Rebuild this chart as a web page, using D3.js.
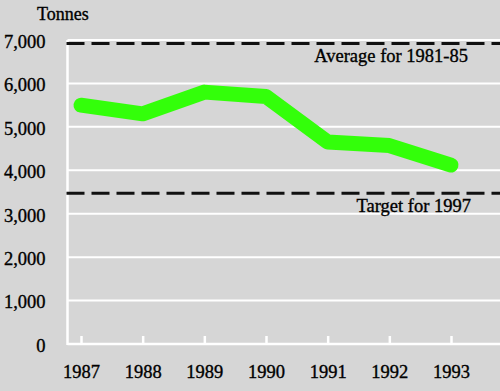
<!DOCTYPE html>
<html>
<head>
<meta charset="utf-8">
<script src="https://cdn.jsdelivr.net/npm/d3@7"></script>
<style>
html,body{margin:0;padding:0;background:#d6d6d6;}
svg{display:block;}
text{font-family:"Liberation Serif","DejaVu Serif",serif;fill:#000;stroke:#000;stroke-width:0.35px;}
</style>
</head>
<body>
<svg id="chart" width="500" height="391"></svg>
<script>
const years = [1987, 1988, 1989, 1990, 1991, 1992, 1993];
const tonnes = [5500, 5300, 5800, 5700, 4650, 4570, 4120];
const yTicks = [0, 1000, 2000, 3000, 4000, 5000, 6000, 7000];
const refValues = [6920, 3470];
const refLabels = ["Average for 1981-85", "Target for 1997"];

const W = 500, H = 391;
const svg = d3.select("#chart");
svg.append("rect").attr("width", W).attr("height", H).attr("fill", "#d6d6d6");

const x = d3.scaleLinear().domain([1987, 1993]).range([81, 451]);
const y = d3.scaleLinear().domain([0, 7000]).range([344, 40]);
const left = 67.5, right = 500;

// gridlines
svg.append("g").selectAll("line").data(yTicks.filter(d => d > 0)).join("line")
  .attr("x1", left).attr("x2", right)
  .attr("y1", d => y(d)).attr("y2", d => y(d))
  .attr("stroke", "#fff").attr("stroke-width", 2);

// y axis
const yAxis = d3.axisLeft(y).tickValues(yTicks).tickSize(0).tickPadding(22)
  .tickFormat(d3.format(","));
const gy = svg.append("g").attr("transform", `translate(${left},0)`).call(yAxis);
gy.select(".domain").remove();
gy.selectAll("text").attr("font-size", 18.5).attr("dy", "0.4em");

// axis lines
svg.append("line").attr("x1", left).attr("x2", left).attr("y1", y(7000)).attr("y2", y(0) + 1)
  .attr("stroke", "#fff").attr("stroke-width", 2.5);
svg.append("line").attr("x1", left).attr("x2", right).attr("y1", y(0)).attr("y2", y(0))
  .attr("stroke", "#fff").attr("stroke-width", 2.5);

// x axis ticks (upward)
const xAxis = d3.axisBottom(x).tickValues(years).tickFormat(d3.format("d"))
  .tickSizeInner(-8).tickSizeOuter(0).tickPadding(20);
const gx = svg.append("g").attr("transform", `translate(0,${y(0)})`).call(xAxis);
gx.select(".domain").remove();
gx.selectAll(".tick line").attr("stroke", "#fff").attr("stroke-width", 2.5);
gx.selectAll("text").attr("font-size", 18.5).attr("dy", "0.75em");

// reference dashed lines
svg.append("g").selectAll("line").data(refValues).join("line")
  .attr("x1", left - 1).attr("x2", right)
  .attr("y1", d => y(d)).attr("y2", d => y(d))
  .attr("stroke", "#111").attr("stroke-width", 3)
  .attr("stroke-dasharray", "18,7");

// reference labels
svg.append("text").attr("x", 468).attr("y", y(refValues[0]) + 19)
  .attr("text-anchor", "end").attr("font-size", 18.5).text(refLabels[0]);
svg.append("text").attr("x", 471).attr("y", y(refValues[1]) + 19)
  .attr("text-anchor", "end").attr("font-size", 18.5).text(refLabels[1]);

// data line
const line = d3.line().x((d, i) => x(years[i])).y(d => y(d));
svg.append("path").datum(tonnes).attr("d", line)
  .attr("fill", "none").attr("stroke", "#33ff0a").attr("stroke-width", 15)
  .attr("stroke-linecap", "round").attr("stroke-linejoin", "round");

// unit label
svg.append("text").attr("x", 37).attr("y", 20).attr("font-size", 18).text("Tonnes");
</script>
</body>
</html>
